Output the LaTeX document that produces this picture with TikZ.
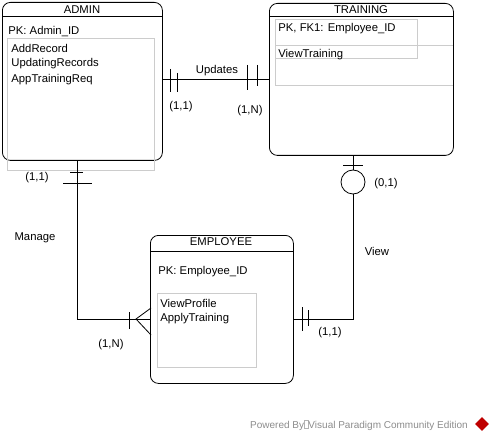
\documentclass[tikz,border=0pt]{standalone}
\usepackage{fontspec}
\setmainfont{Liberation Sans}
\usetikzlibrary{shapes.geometric}

\begin{document}
\begin{tikzpicture}[x=1pt, y=-1pt, line width=0.8pt,
    font=\fontsize{11.3}{13}\selectfont,
    entity/.style={draw, rounded corners=8pt, anchor=north west, inner sep=0pt},
    attrbox/.style={draw=black!20, line width=0.6pt},
    txt/.style={anchor=west, inner sep=0pt}]
  \useasboundingbox (0,0) rectangle (494,443);

  % ADMIN
  \node[entity, minimum width=160pt, minimum height=158pt] (admin) at (2,2) {};
  \draw (admin.west |- 0,16) -- (admin.east |- 0,16);
  \node (tadmin) at (82,9.5) {ADMIN};
  \node[txt] (aPK) at (8,32) {PK: Admin\_ID};
  \draw[attrbox] (7,38) rectangle (154,170);
  \node[txt] (a1) at (11,48) {AddRecord};
  \node[txt] (a2) at (11,64) {UpdatingRecords};
  \node[txt] (a3) at (11,80) {AppTrainingReq};

  % TRAINING
  \node[entity, minimum width=184pt, minimum height=152pt] (training) at (269,3) {};
  \draw (training.west |- 0,16) -- (training.east |- 0,16);
  \node (ttraining) at (361,9.5) {TRAINING};
  \draw[attrbox] (275,19) rectangle (417,58);
  \draw[attrbox] (275,45) -- (453,45);
  \draw[attrbox] (275,45) -- (275,85) -- (453,85);
  \node[txt] (tPK) at (278,29) {PK, FK1: Employee\_ID};
  \node[txt] (t1) at (278,55) {ViewTraining};

  % EMPLOYEE
  \node[entity, minimum width=143pt, minimum height=148pt] (employee) at (150,235) {};
  \draw (employee.west |- 0,251) -- (employee.east |- 0,251);
  \node (temployee) at (221,242) {EMPLOYEE};
  \node[txt] (ePK) at (158,272) {PK: Employee\_ID};
  \draw[attrbox] (157,293) rectangle (256,367);
  \node[txt] (e1) at (160,303) {ViewProfile};
  \node[txt] (e2) at (160,319) {ApplyTraining};

  % Updates
  \coordinate (u) at (0,79);
  \draw (admin.east |- u) -- (training.west |- u);
  \draw (170,69) -- (170,92) (177,73) -- (177,92);
  \draw (247,65) -- (247,90) (257,65) -- (257,86);
  \node (lupd) at (217,71) {Updates};
  \node (c11a) at (181,107) {(1,1)};
  \node (c1Na) at (250,111) {(1,N)};

  % Manage
  \coordinate (m) at (77,319);
  \draw (admin.south -| m) -- (m) -- (employee.west |- m);
  \draw (70,172) -- (83,172) (63,183) -- (92,183);
  \draw (129,312) -- (129,329);
  \draw (151,308) -- (136,319) -- (151,335);
  \node (lman) at (35,238) {Manage};
  \node (c11b) at (37,178) {(1,1)};
  \node (c1Nb) at (111,345) {(1,N)};

  % View
  \coordinate (v) at (353,319);
  \draw (training.south -| v) -- (v) -- (employee.east |- v);
  \draw (343,165) -- (363,165);
  \node[draw, circle, fill=white, minimum size=24pt, inner sep=0pt] (o) at (353,182) {};
  \draw (302,307) -- (302,331) (308,310) -- (308,326);
  \node (lview) at (377,251) {View};
  \node (c01) at (386,184) {(0,1)};
  \node (c11c) at (330,333) {(1,1)};

  % footer
  \node[text=black!45, font=\fontsize{10}{12}\selectfont] (pow) at (359,425)
    {Powered By\tikz\draw[black!30, line width=0.4pt] (0,0) rectangle (4,8);Visual Paradigm Community Edition};
  \node[diamond, fill=red!75!black, minimum size=14pt, inner sep=0pt] (vp) at (482,424) {};
\end{tikzpicture}
\end{document}
